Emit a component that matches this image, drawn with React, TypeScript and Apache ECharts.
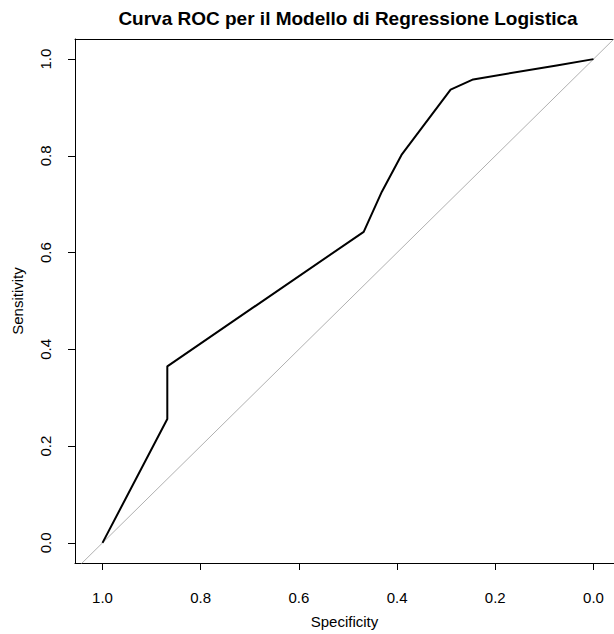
import { useEffect, useRef } from "react";
import * as echarts from "echarts";

const specificity = [1.0, 0.868, 0.868, 0.468, 0.431, 0.391, 0.291, 0.245, 0.075, 0.0];
const sensitivity = [0.0, 0.256, 0.365, 0.643, 0.726, 0.802, 0.937, 0.958, 0.987, 1.0];
const tickValues = [0, 0.2, 0.4, 0.6, 0.8, 1.0];
const chanceSpec = [1.1, -0.1];
const chanceSens = [-0.1, 1.1];
const titleText = "Curva ROC per il Modello di Regressione Logistica";
const xName = "Specificity";
const yName = "Sensitivity";

export default function App() {
  const ref = useRef<HTMLDivElement>(null);
  useEffect(() => {
    document.body.style.margin = "0";
    const chart = echarts.init(ref.current!, null, { renderer: "svg" });
    const font = "Liberation Sans";
    const roc = specificity.map((s, i) => [s, sensitivity[i]]);
    const chance = chanceSpec.map((s, i) => [s, chanceSens[i]]);
    const labelStyle = { fontFamily: font, fontSize: 15, color: "#000" };
    chart.setOption({
      animation: false,
      backgroundColor: "#ffffff",
      title: {
        text: titleText,
        left: 343,
        top: 4,
        textAlign: "center",
        textStyle: { fontFamily: font, fontSize: 19, fontWeight: "bold", color: "#000" },
      },
      grid: {
        left: 75,
        top: 39,
        right: 0,
        height: 530,
        show: false,
      },
      xAxis: [
        {
          type: "value",
          inverse: true,
          min: -0.0418,
          max: 1.056,
          name: xName,
          nameLocation: "middle",
          nameGap: 51,
          nameTextStyle: labelStyle,
          splitLine: { show: false },
          axisLine: { show: true, onZero: false, lineStyle: { color: "#000", width: 1 } },
          axisTick: { show: true, length: 7, customValues: tickValues, lineStyle: { color: "#000" } },
          axisLabel: {
            ...labelStyle,
            customValues: tickValues,
            margin: 27,
            formatter: (v: number) => v.toFixed(1),
          },
        },
        {
          type: "value",
          position: "top",
          inverse: true,
          min: -0.0418,
          max: 1.056,
          splitLine: { show: false },
          axisLine: { show: true, onZero: false, lineStyle: { color: "#000", width: 1 } },
          axisTick: { show: false },
          axisLabel: { show: false },
        },
      ],
      yAxis: {
        type: "value",
        min: -0.0416,
        max: 1.0416,
        name: yName,
        nameLocation: "middle",
        nameGap: 50,
        nameTextStyle: labelStyle,
        splitLine: { show: false },
        axisLine: { show: true, onZero: false, lineStyle: { color: "#000", width: 1 } },
        axisTick: { show: true, length: 7, customValues: tickValues, lineStyle: { color: "#000" } },
        axisLabel: {
          ...labelStyle,
          customValues: tickValues,
          rotate: 90,
          margin: 22,
          formatter: (v: number) => v.toFixed(1),
        },
      },
      series: [
        {
          type: "line",
          data: chance,
          symbol: "none",
          clip: true,
          lineStyle: { color: "#b0b0b0", width: 1 },
          silent: true,
        },
        {
          type: "line",
          data: roc,
          symbol: "none",
          clip: true,
          lineStyle: { color: "#000", width: 2 },
        },
      ],
    });
    return () => chart.dispose();
  }, []);
  return <div ref={ref} style={{ width: 614, height: 634 }} />;
}
